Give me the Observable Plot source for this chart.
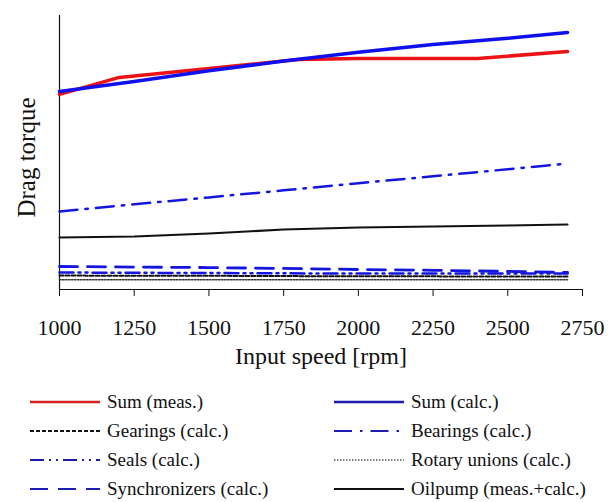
<!DOCTYPE html>
<html><head><meta charset="utf-8">
<script src="https://cdn.jsdelivr.net/npm/d3@7"></script>
<script src="https://cdn.jsdelivr.net/npm/@observablehq/plot@0.6"></script>
<style>
body{margin:0;background:#fff;font-family:"Liberation Serif","Times New Roman",serif;}
#wrap{position:relative;width:613px;height:502px;overflow:hidden;}
#legend{position:absolute;left:30px;top:387px;display:grid;grid-template-columns:304px 278px;grid-auto-rows:29px;}
.item{display:flex;align-items:center;font-size:19px;color:#111;white-space:nowrap;}
.item svg{margin-right:6px;}
</style></head><body><div id="wrap"><div id="chart"></div><div id="legend"></div></div>
<script>
// ---- data ----
const xTicks = [1000, 1250, 1500, 1750, 2000, 2250, 2500, 2750];
const seriesNames = ["Sum (meas.)", "Sum (calc.)", "Gearings (calc.)", "Bearings (calc.)", "Seals (calc.)", "Rotary unions (calc.)", "Synchronizers (calc.)", "Oilpump (meas.+calc.)"];

const speedSumMeas = [1000, 1200, 1400, 1600, 1800, 2000, 2200, 2400, 2700];
const torqueSumMeas = [71.2, 77.4, 79.6, 81.8, 83.9, 84.3, 84.3, 84.3, 86.9];

const speedCalc = [1000, 1250, 1500, 1750, 2000, 2250, 2500, 2700];
const torqueSumCalc = [72.3, 75.9, 79.8, 83.4, 86.6, 89.4, 91.7, 93.8];
const torqueGearings = [5.1, 5.0, 5.0, 4.9, 4.8, 4.8, 4.7, 4.7];
const torqueBearings = [28.5, 31.1, 33.6, 36.2, 38.8, 41.3, 43.9, 46.0];
const torqueSeals = [6.2, 6.1, 6.0, 5.9, 5.8, 5.8, 5.8, 5.8];
const torqueRotary = [3.6, 3.6, 3.6, 3.6, 3.6, 3.6, 3.6, 3.6];
const torqueSync = [8.4, 8.2, 8.0, 7.7, 7.3, 7.0, 6.6, 6.2];
const torqueOilpump = [19.0, 19.3, 20.4, 21.9, 22.6, 23.0, 23.4, 23.7];

// ---- styles ----
const styles = {
  "Sum (meas.)": {stroke: "#ec1216", width: 3.5, dash: null, legend: "#d42020", lw: 2.5},
  "Sum (calc.)": {stroke: "#1010ee", width: 3.5, dash: null, legend: "#1c1cb0", lw: 2.5},
  "Gearings (calc.)": {stroke: "#111", width: 2, dash: "4,2", legend: "#111", lw: 1.8},
  "Bearings (calc.)": {stroke: "#1515e0", width: 2.5, dash: "18,8,2.5,8", legend: "#1c1cb0", lw: 2.2},
  "Seals (calc.)": {stroke: "#1515e0", width: 2.5, dash: "14,5,2,5,2,5", legend: "#1c1cb0", lw: 2.2},
  "Rotary unions (calc.)": {stroke: "#333", width: 1.5, dash: "1.5,1.5", legend: "#555", lw: 1.5},
  "Synchronizers (calc.)": {stroke: "#1515e0", width: 2.8, dash: "18,10", legend: "#1c1cb0", lw: 2.2},
  "Oilpump (meas.+calc.)": {stroke: "#111", width: 2, dash: null, legend: "#111", lw: 2.2}
};

const seriesData = {
  "Sum (meas.)": speedSumMeas.map((x, i) => ({x, y: torqueSumMeas[i]})),
  "Sum (calc.)": speedCalc.map((x, i) => ({x, y: torqueSumCalc[i]})),
  "Gearings (calc.)": speedCalc.map((x, i) => ({x, y: torqueGearings[i]})),
  "Bearings (calc.)": speedCalc.map((x, i) => ({x, y: torqueBearings[i]})),
  "Seals (calc.)": speedCalc.map((x, i) => ({x, y: torqueSeals[i]})),
  "Rotary unions (calc.)": speedCalc.map((x, i) => ({x, y: torqueRotary[i]})),
  "Synchronizers (calc.)": speedCalc.map((x, i) => ({x, y: torqueSync[i]})),
  "Oilpump (meas.+calc.)": speedCalc.map((x, i) => ({x, y: torqueOilpump[i]}))
};

const drawOrder = ["Rotary unions (calc.)", "Gearings (calc.)", "Seals (calc.)", "Synchronizers (calc.)", "Oilpump (meas.+calc.)", "Bearings (calc.)", "Sum (meas.)", "Sum (calc.)"];

const lineMarks = drawOrder.map(name => {
  const s = styles[name];
  const opts = {x: "x", y: "y", stroke: s.stroke, strokeWidth: s.width, curve: "linear"};
  if (s.dash) opts.strokeDasharray = s.dash;
  return Plot.line(seriesData[name], opts);
});

const plot = Plot.plot({
  width: 613, height: 384,
  marginLeft: 59, marginRight: 31, marginTop: 15, marginBottom: 95,
  x: {domain: [1000, 2750]},
  y: {domain: [0, 100], axis: null},
  style: {fontFamily: "'Liberation Serif', 'Times New Roman', serif", background: "white", color: "#111"},
  marks: [
    Plot.ruleX([xTicks[0]], {stroke: "#111", strokeWidth: 1.2}),
    Plot.ruleY([0], {stroke: "#111", strokeWidth: 1.2}),
    Plot.axisX({ticks: xTicks, tickFormat: d => String(d), tickSize: 7, tickPadding: 23, fontSize: 22, label: null, stroke: "#111"}),
    ...lineMarks,
    Plot.text(["Input speed [rpm]"], {frameAnchor: "bottom", dy: 67, fontSize: 24, lineAnchor: "middle", textAnchor: "middle", fill: "#111"}),
    Plot.text(["Drag torque"], {frameAnchor: "left", rotate: -90, dx: -33, dy: 5, fontSize: 25, lineAnchor: "middle", textAnchor: "middle", fill: "#111"})
  ]
});
document.getElementById("chart").appendChild(plot);

// ---- legend ----
const legend = document.getElementById("legend");
seriesNames.forEach(name => {
  const s = styles[name];
  const item = document.createElement("div");
  item.className = "item";
  const svg = d3.create("svg").attr("width", 71).attr("height", 10);
  svg.append("line").attr("x1", 0).attr("x2", 70).attr("y1", 5).attr("y2", 5)
    .attr("stroke", s.legend).attr("stroke-width", s.lw)
    .attr("stroke-dasharray", s.dash || null);
  item.appendChild(svg.node());
  const span = document.createElement("span");
  span.textContent = name;
  item.appendChild(span);
  legend.appendChild(item);
});
</script></body></html>
